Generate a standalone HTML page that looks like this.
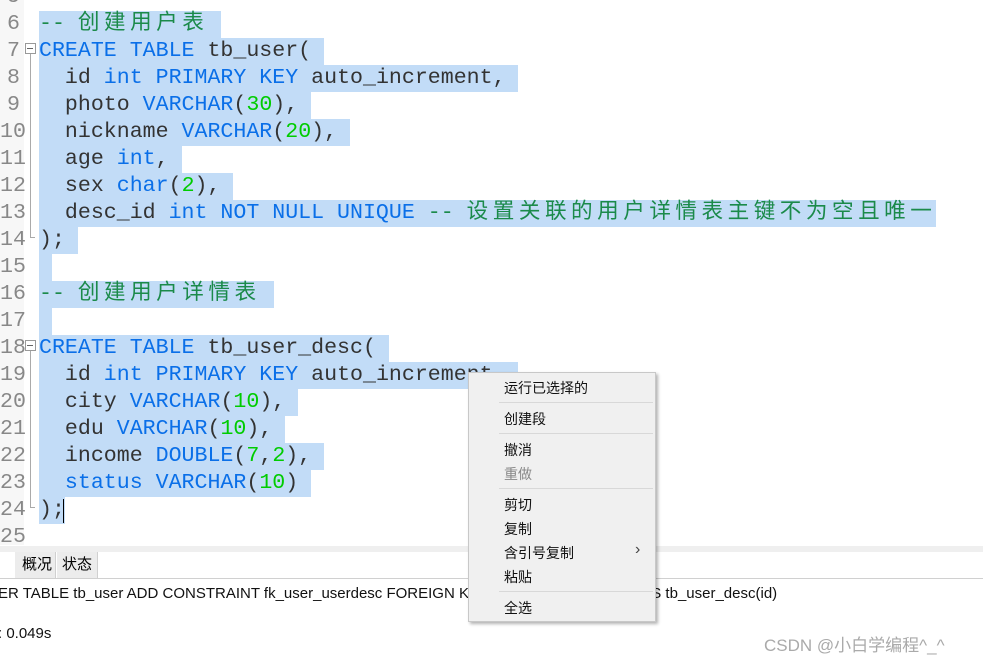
<!DOCTYPE html>
<html><head><meta charset="utf-8"><style>
body{margin:0;width:983px;height:661px;overflow:hidden;background:#fff;position:relative;font-family:"Liberation Mono","Noto Sans CJK SC",monospace}
.ln{position:absolute;left:0;width:20px;text-align:right;font-size:21.6px;color:#888;line-height:27px;height:27px}
.gut{position:absolute;left:0;top:0;width:24px;height:545px;background:#f7f7f7}
.l{position:absolute;left:39px;height:27px;line-height:27px;font-size:21.6px;white-space:pre;color:#333}
.l span.s{background:#c2dcf7;display:inline-block;height:27px}
.k{color:#0a6fe8}.n{color:#0c0}.c{color:#1b8a4a}
.cj{letter-spacing:4.5px}
.menu{position:absolute;left:468px;top:372px;width:186px;height:248px;background:#f0f0f0;border:1px solid #c8c8c8;box-shadow:2px 2px 3px rgba(0,0,0,.3);font-family:"Liberation Sans","Noto Sans CJK SC",sans-serif;font-size:14px;color:#111}
.mi{position:absolute;left:35px}
.sep{position:absolute;left:30px;right:2px;height:1px;background:#d8d8d8}
.ui{font-family:"Liberation Sans","Noto Sans CJK SC",sans-serif}
.wrap{position:absolute;left:0;top:3px;width:983px;height:545px}
</style></head><body>
<div class="gut"></div>
<div class="wrap">
<div class="ln" style="top:-19px">5</div>
<div class="ln" style="top:8px">6</div><div class="ln" style="top:35px">7</div><div class="ln" style="top:62px">8</div><div class="ln" style="top:89px">9</div><div class="ln" style="top:116px">10</div><div class="ln" style="top:143px">11</div><div class="ln" style="top:170px">12</div><div class="ln" style="top:197px">13</div><div class="ln" style="top:224px">14</div><div class="ln" style="top:251px">15</div><div class="ln" style="top:278px">16</div><div class="ln" style="top:305px">17</div><div class="ln" style="top:332px">18</div><div class="ln" style="top:359px">19</div><div class="ln" style="top:386px">20</div><div class="ln" style="top:413px">21</div><div class="ln" style="top:440px">22</div><div class="ln" style="top:467px">23</div><div class="ln" style="top:494px">24</div><div class="ln" style="top:521px">25</div>
<div style="position:absolute;left:25px;top:40px;width:9px;height:9px;border:1px solid #999;background:#fff"></div>
<div style="position:absolute;left:27px;top:45px;width:6px;height:1px;background:#666"></div>
<div style="position:absolute;left:30px;top:51px;width:1px;height:184px;background:#aaa"></div>
<div style="position:absolute;left:30px;top:234px;width:5px;height:1px;background:#aaa"></div>
<div style="position:absolute;left:25px;top:337px;width:9px;height:9px;border:1px solid #999;background:#fff"></div>
<div style="position:absolute;left:27px;top:342px;width:6px;height:1px;background:#666"></div>
<div style="position:absolute;left:30px;top:348px;width:1px;height:157px;background:#aaa"></div>
<div style="position:absolute;left:30px;top:504px;width:5px;height:1px;background:#aaa"></div>

<div class="l" style="top:8px"><span class="s"><span class="c">-- <span class="cj">创建用户表</span> </span></span></div>
<div class="l" style="top:35px"><span class="s"><span class="k">CREATE TABLE</span> tb_user( </span></div>
<div class="l" style="top:62px"><span class="s">  id <span class="k">int PRIMARY KEY</span> auto_increment, </span></div>
<div class="l" style="top:89px"><span class="s">  photo <span class="k">VARCHAR</span>(<span class="n">30</span>), </span></div>
<div class="l" style="top:116px"><span class="s">  nickname <span class="k">VARCHAR</span>(<span class="n">20</span>), </span></div>
<div class="l" style="top:143px"><span class="s">  age <span class="k">int</span>, </span></div>
<div class="l" style="top:170px"><span class="s">  sex <span class="k">char</span>(<span class="n">2</span>), </span></div>
<div class="l" style="top:197px"><span class="s">  desc_id <span class="k">int NOT NULL UNIQUE</span> <span class="c">-- <span class="cj">设置关联的用户详情表主键不为空且唯一</span></span></span></div>
<div class="l" style="top:224px"><span class="s">); </span></div>
<div class="l" style="top:251px"><span class="s"> </span></div>
<div class="l" style="top:278px"><span class="s"><span class="c">-- <span class="cj">创建用户详情表</span> </span></span></div>
<div class="l" style="top:305px"><span class="s"> </span></div>
<div class="l" style="top:332px"><span class="s"><span class="k">CREATE TABLE</span> tb_user_desc( </span></div>
<div class="l" style="top:359px"><span class="s">  id <span class="k">int PRIMARY KEY</span> auto_increment, </span></div>
<div class="l" style="top:386px"><span class="s">  city <span class="k">VARCHAR</span>(<span class="n">10</span>), </span></div>
<div class="l" style="top:413px"><span class="s">  edu <span class="k">VARCHAR</span>(<span class="n">10</span>), </span></div>
<div class="l" style="top:440px"><span class="s">  income <span class="k">DOUBLE</span>(<span class="n">7</span>,<span class="n">2</span>), </span></div>
<div class="l" style="top:467px"><span class="s">  <span class="k">status VARCHAR</span>(<span class="n">10</span>) </span></div>
<div class="l" style="top:494px"><span class="s">);</span></div>
<div style="position:absolute;left:63px;top:496px;width:1px;height:24px;background:#000"></div>
</div>

<div style="position:absolute;left:0;top:546px;width:983px;height:6px;background:#efefef"></div>
<div style="position:absolute;left:0;top:578px;width:983px;height:1px;background:#d0d0d0"></div>
<div class="ui" style="position:absolute;left:15px;top:552px;width:41px;height:26px;background:#ececec;border-right:1px solid #d0d0d0;font-size:15px;line-height:26px;padding-left:7px;box-sizing:border-box">概况</div>
<div class="ui" style="position:absolute;left:57px;top:552px;width:41px;height:26px;background:#ececec;border-right:1px solid #d0d0d0;font-size:15px;line-height:26px;padding-left:5px;box-sizing:border-box">状态</div>
<div class="ui" style="position:absolute;left:-2px;top:585px;font-size:15px;white-space:pre;color:#111">ER TABLE tb_user ADD CONSTRAINT fk_user_userdesc FOREIGN KEY (desc_id) REFERENCES tb_user_desc(id)</div>
<div class="ui" style="position:absolute;left:-2px;top:625px;font-size:15px;color:#111">: 0.049s</div>
<div class="ui" style="position:absolute;left:764px;top:631px;font-size:17px;color:#aaa">CSDN @小白学编程^_^</div>

<div class="menu">
<div class="mi" style="top:5px">运行已选择的</div>
<div class="sep" style="top:29px"></div>
<div class="mi" style="top:36px">创建段</div>
<div class="sep" style="top:60px"></div>
<div class="mi" style="top:67px">撤消</div>
<div class="mi" style="top:91px;color:#888">重做</div>
<div class="sep" style="top:115px"></div>
<div class="mi" style="top:122px">剪切</div>
<div class="mi" style="top:146px">复制</div>
<div class="mi" style="top:170px">含引号复制</div>
<div style="position:absolute;left:166px;top:168px;font-size:16px;color:#444">›</div>
<div class="mi" style="top:194px">粘贴</div>
<div class="sep" style="top:218px"></div>
<div class="mi" style="top:225px">全选</div>
</div>
</body></html>
